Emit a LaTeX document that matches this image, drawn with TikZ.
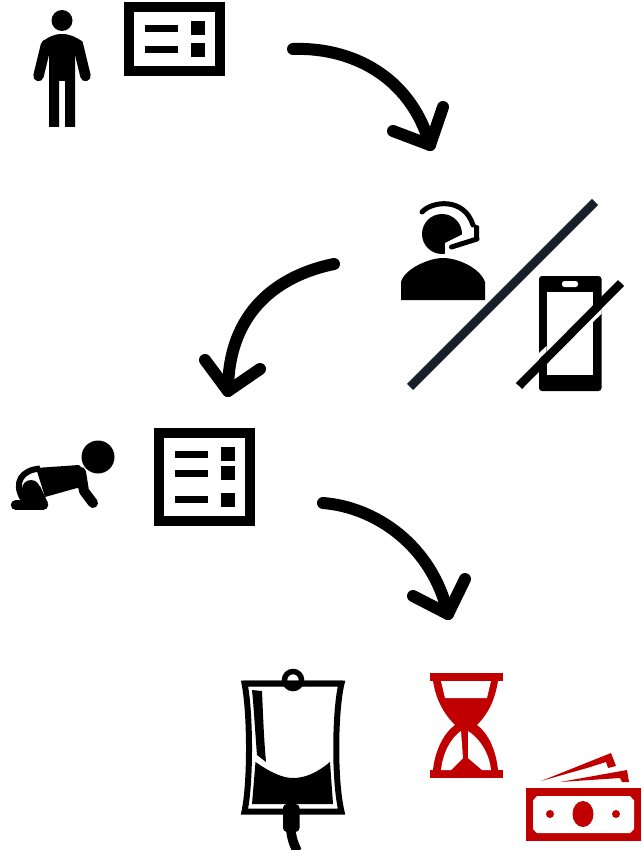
\documentclass[tikz,border=0pt]{standalone}
\definecolor{slashgray}{HTML}{1A202A}
\definecolor{costred}{HTML}{C00000}
\tikzset{
  flow/.style={line width=12pt, line cap=round, line join=round},
  formframe/.style={line width=10pt},
  bag/.style={line width=6pt, line join=miter},
  slash/.style={line width=8.5pt}
}
\begin{document}
\begin{tikzpicture}[x=1pt, y=-1pt]
  \useasboundingbox (0,0) rectangle (641,850);
  % person
  \fill (62,20.5) circle (10.5);
  \fill (49,127) -- (59,127) -- (59,81) -- (65,81) -- (65,127) -- (75,127) -- (75,54)
    -- (83,42) .. controls (76,37) and (70,34) .. (62,34) .. controls (54,34) and (48,37) .. (42,42)
    -- (49,54) -- cycle;
  \draw[line width=10.5pt, line cap=round] (46,45) -- (38.5,76) (78,45) -- (85.5,76);
  % forms
  \draw[formframe] (129,7) rectangle (220,71);
  \foreach \y in {25,46}
    \fill (145,\y) rectangle +(33,7);
  \foreach \y in {21,43}
    \fill (191,\y) rectangle +(14,14);
  \draw[formframe] (159,433) rectangle (250,520.5);
  \foreach \y in {451,470,496}
    \fill (175,\y) rectangle +(33,7);
  \foreach \y in {447,466,493}
    \fill (221,\y) rectangle +(14,14);
  % flow arrows
  \coordinate (formTip) at (430,145);
  \coordinate (callTip) at (228,391);
  \coordinate (drugTip) at (448,614);
  \draw[flow] (293,49) .. controls (350,47) and (410,75) .. (formTip);
  \draw[flow] (393,131) -- (formTip) -- (443,107);
  \draw[flow] (334,264) .. controls (280,275) and (228,310) .. (callTip);
  \draw[flow] (205,360) -- (callTip) -- (260,369);
  \draw[flow] (323,503) .. controls (375,507) and (432,545) .. (drugTip);
  \draw[flow] (413,596) -- (drugTip) -- (465,579);
  % agent
  \fill (442,234) circle (20);
  \fill[white] (445,256) -- (445,243) -- (463,234) -- (482,230) -- (482,257) -- cycle;
  \draw[line width=5pt, line cap=round] (422,212) .. controls (432,201) and (464,197) .. (473,225);
  \fill (474,224) -- (479,226) -- (479,239) -- (474,242) -- cycle;
  \draw[line width=5pt, line cap=round] (451.5,247) -- (477,239);
  \fill (401,300) -- (401,282) .. controls (405,268) and (430,258) .. (443,258)
    .. controls (458,258) and (480,268) .. (485,282) -- (485,300) -- cycle;
  \draw[slash, slashgray] (595,202) -- (410,387);
  % phone
  \fill[rounded corners=3pt] (539,276) rectangle (601.5,391);
  \fill[white] (546.5,291.5) rectangle (593,375);
  \fill[white, rounded corners=2.5pt] (562,281) rectangle (578,287);
  \fill[white] (601.5,306) -- (593,314) -- (593,322) -- (601.5,314) -- cycle;
  \fill[white] (539,353) -- (546.5,346) -- (546.5,352) -- (539,359) -- cycle;
  \draw[slash] (621,283) -- (519,386);
  % baby
  \fill (98,457) circle (16.5);
  \fill (36,468) -- (79,465) -- (84,470) -- (88,491) -- (77,488) -- (45,497) -- cycle;
  \draw[line width=10pt, line cap=round, line join=round] (81,472) -- (84,491) -- (93,503);
  \draw[line width=6pt] (40,468.5) .. controls (22,470) and (13,482) .. (23,499);
  \fill (31,489) circle (9);
  \fill (22,490) -- (40,486) -- (48,503) -- (22,503) -- cycle;
  \draw[line width=10.5pt, line cap=round] (16,505) -- (43,505);
  % drip bag
  \draw[line width=5.5pt] (293,680) circle (8.5);
  \fill[rounded corners=1.5pt] (242,680.5) -- (344,680.5) -- (344,686) -- (242,686) -- cycle;
  \draw[bag] (244.5,683.5) -- (341.5,683.5) .. controls (335,710) and (334,780) .. (341.5,811.5)
    -- (244.5,811.5) .. controls (251,780) and (250,710) .. cycle;
  \fill (252,690) -- (262,691) .. controls (263,715) and (264,740) .. (266,762)
    -- (257,755) .. controls (255,730) and (254,710) .. cycle;
  \fill (255.5,762) .. controls (270,772) and (282,778) .. (293,778)
    .. controls (306,778) and (318,772) .. (330,762) -- (333,804) -- (252,804) -- cycle;
  \fill[rounded corners=4pt] (283,804) rectangle (299.5,832);
  \draw[line width=9.5pt] (290.5,825) .. controls (291,838) and (294,844) .. (297,851);
  % hourglass
  \fill[costred] (429.5,673) rectangle (502.5,681);
  \fill[costred] (429.5,770) rectangle (502.5,778);
  \fill[costred] (433,681) .. controls (436,700) and (444,714) .. (455,725)
    .. controls (444,733) and (435,750) .. (433,770) -- (498,770)
    .. controls (496,750) and (488,733) .. (477,725)
    .. controls (488,714) and (495,700) .. (498,681) -- cycle;
  \fill[white] (441,681) -- (491,681) -- (487,698) -- (445,698) -- cycle;
  \fill[white] (441,770) .. controls (443,752) and (451,738) .. (461,731) -- (463,758) -- (451,770) -- cycle;
  \fill[white] (491,770) .. controls (489,752) and (479,738) .. (468,731) -- (468,758) -- (482,770) -- cycle;
  % money
  \fill[costred] (526,788) rectangle (641,841);
  \fill[white] (537,796) -- (630,796) -- (634,800.5) -- (634,829) -- (630,833) -- (537,833)
    -- (533,829) -- (533,800.5) -- cycle;
  \fill[costred] (583,814) ellipse (10.5 and 13);
  \foreach \x in {550,616}
    \fill[costred] (\x,814) circle (4);
  \fill[costred] (541,781) -- (611,753) -- (616,766) -- (608,768) -- (606,762) -- (587,768) -- cycle;
  \fill[costred] (560,782) -- (627,770) -- (629,782) -- (622,782) -- (620,778) -- cycle;
\end{tikzpicture}
\end{document}
